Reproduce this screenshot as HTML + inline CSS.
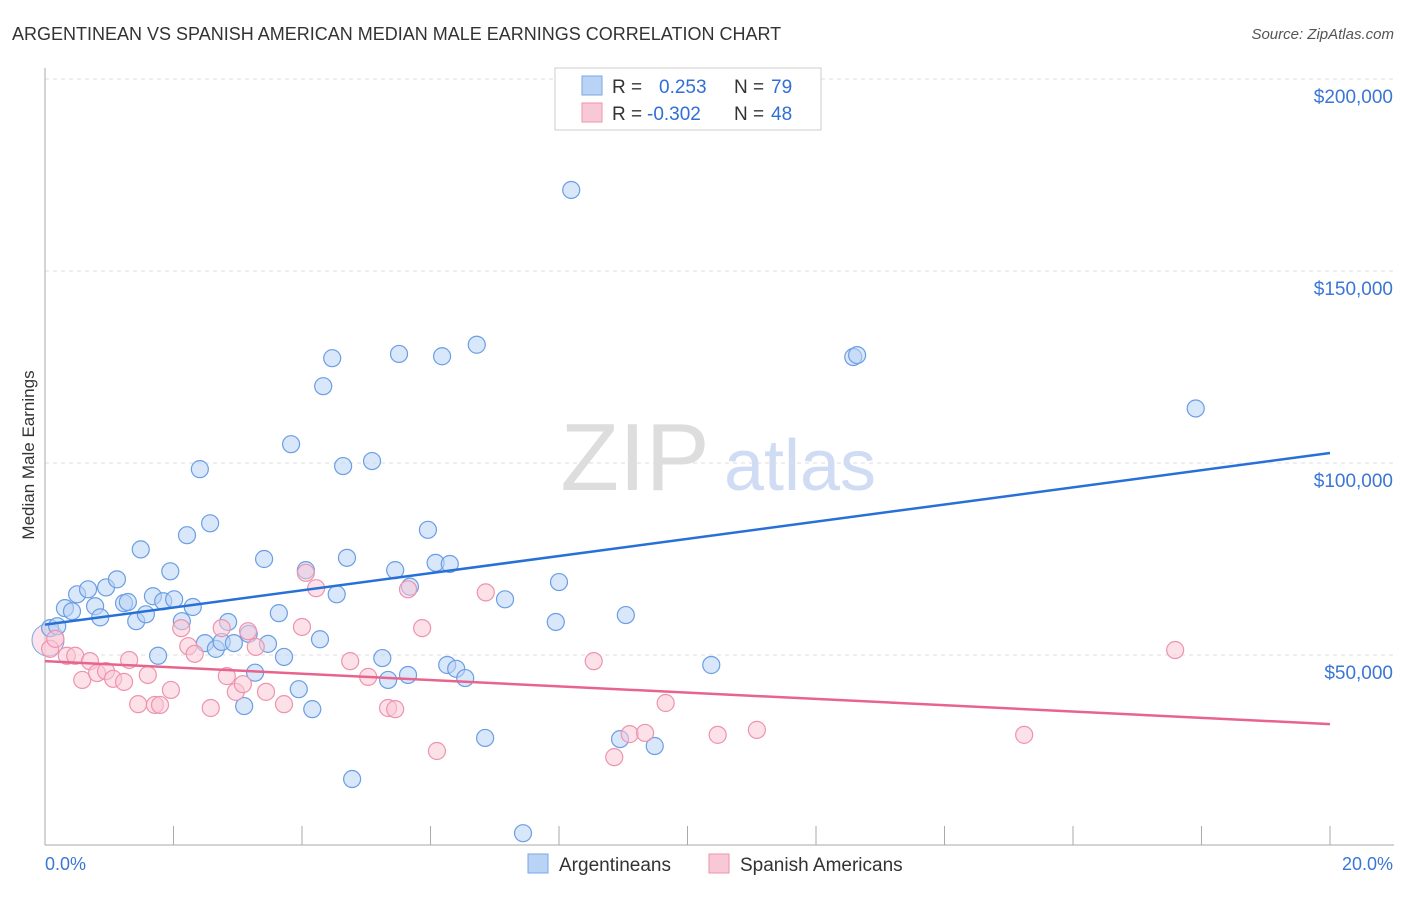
<!DOCTYPE html>
<html><head><meta charset="utf-8"><style>
body{margin:0;background:#fff;font-family:"Liberation Sans",sans-serif;}
svg text{font-family:"Liberation Sans",sans-serif;}
</style></head><body>
<svg id="chart" width="1406" height="892" viewBox="0 0 1406 892" xmlns="http://www.w3.org/2000/svg">
<text x="12" y="40" font-size="18" fill="#333">ARGENTINEAN VS SPANISH AMERICAN MEDIAN MALE EARNINGS CORRELATION CHART</text>
<text x="1394" y="39" font-size="15" fill="#555" text-anchor="end" font-style="italic">Source: ZipAtlas.com</text>
<text transform="translate(34,455) rotate(-90)" font-size="17" fill="#333" text-anchor="middle">Median Male Earnings</text>
<g><text x="635" y="490" font-size="96" fill="#ddd" text-anchor="middle" font-family="Liberation Serif,serif">ZIP</text><text x="800" y="490" font-size="72" fill="#cfdcf3" text-anchor="middle">atlas</text></g>
<g id="grid"></g><g id="axes"></g><g id="pts"></g><g id="lines"></g>
<g>
<rect x="555" y="68" width="266" height="62" fill="#fff" stroke="#ccc"/>
<rect x="582" y="76" width="20" height="19" fill="#b9d3f5" stroke="#7aa6e6"/>
<rect x="582" y="103" width="20" height="19" fill="#f9c8d7" stroke="#ee93ae"/>
<text x="612" y="93" font-size="19" fill="#333">R =</text><text x="659" y="93" font-size="19" fill="#2f6fd6">0.253</text>
<text x="734" y="93" font-size="19" fill="#333">N =</text><text x="771" y="93" font-size="19" fill="#2f6fd6">79</text>
<text x="612" y="120" font-size="19" fill="#333">R =</text><text x="647" y="120" font-size="19" fill="#2f6fd6">-0.302</text>
<text x="734" y="120" font-size="19" fill="#333">N =</text><text x="771" y="120" font-size="19" fill="#2f6fd6">48</text>
</g>
<g>
<rect x="528" y="854" width="20" height="19" fill="#b9d3f5" stroke="#7aa6e6"/>
<text x="559" y="871" font-size="19" fill="#333">Argentineans</text>
<rect x="709" y="854" width="20" height="19" fill="#f9c8d7" stroke="#ee93ae"/>
<text x="740" y="871" font-size="19" fill="#333">Spanish Americans</text>
</g>
<text x="45" y="870" font-size="18" fill="#3a76d6">0.0%</text>
<text x="1393" y="870" font-size="18" fill="#3a76d6" text-anchor="end">20.0%</text>
</svg>
<script>
const yTicks=[50000,100000,150000,200000];
const yTickLabels=["$50,000","$100,000","$150,000","$200,000"];
const blueX=[0.08,0.19,0.31,0.42,0.50,0.67,0.78,0.86,0.95,1.12,1.23,1.29,1.42,1.49,1.57,1.68,1.76,1.84,1.95,2.01,2.13,2.21,2.30,2.41,2.49,2.57,2.66,2.75,2.85,2.94,3.10,3.17,3.27,3.41,3.47,3.64,3.72,3.83,3.95,4.06,4.16,4.28,4.33,4.47,4.54,4.64,4.70,4.78,5.09,5.25,5.34,5.45,5.51,5.65,5.68,5.96,6.08,6.18,6.26,6.30,6.40,6.54,6.72,6.85,7.16,7.44,7.95,8.00,8.19,8.95,9.04,9.49,10.37,12.58,12.64,17.91];
const blueY=[57000,57500,62200,61400,65800,67100,62700,59800,67600,69700,63500,63800,58800,77500,60600,65300,49800,64000,71800,64500,58800,81200,62500,98400,53100,84300,51600,53400,58600,53100,36700,55500,45400,75000,52900,60900,49500,104900,41100,72100,35900,54100,120000,127300,65800,99200,75300,17700,100500,49200,43500,72100,128400,44800,67800,82600,74000,127800,47400,73700,46400,44000,130800,28400,64500,3600,58600,69000,171100,28100,60400,26300,47400,127600,128100,114200];
const pinkX=[0.08,0.16,0.34,0.47,0.58,0.70,0.81,0.95,1.06,1.23,1.31,1.45,1.60,1.71,1.79,1.96,2.12,2.23,2.33,2.58,2.75,2.83,2.97,3.08,3.16,3.28,3.44,3.72,4.00,4.06,4.22,4.75,5.03,5.34,5.45,5.65,5.87,6.10,6.86,8.54,8.86,9.10,9.34,9.66,10.47,11.08,15.24,17.59];
const pinkY=[51600,54200,49800,49800,43500,48400,45300,45800,43800,43000,48700,37200,44800,37000,37000,40900,57000,52300,50300,36200,57000,44500,40400,42400,56200,52100,40400,37200,57300,71400,67400,48400,44300,36200,35900,67100,57000,25000,66300,48400,23400,29400,29700,37500,29200,30500,29200,51300];
const trendBlue=[57900,102600];
const trendPink=[48400,32000];
const X0=45,X1=1330,Y0=847,PX=192/50000;
const sx=v=>X0+(X1-X0)*v/20, sy=v=>Y0-v*PX;
const NS="http://www.w3.org/2000/svg";
function mk(tag,attrs,parent){const e=document.createElementNS(NS,tag);for(const k in attrs)e.setAttribute(k,attrs[k]);parent.appendChild(e);return e;}
const grid=document.getElementById('grid'),axes=document.getElementById('axes'),pts=document.getElementById('pts'),lines=document.getElementById('lines');
yTicks.forEach((t,i)=>{
 const l=mk('line',{x1:X0,x2:1394,y1:sy(t),y2:sy(t),stroke:'#ddd','stroke-dasharray':'4,4'},grid);
 
 
 const tx=mk('text',{x:1393,y:sy(t)+24,'font-size':19,fill:'#3a76d6','text-anchor':'end'},grid);
 tx.textContent=yTickLabels[i];
 
 
});
const ya=mk('line',{x1:X0,x2:X0,y1:68,y2:845,stroke:'#aaa'},axes);


const xa=mk('line',{x1:X0,x2:1394,y1:845,y2:845,stroke:'#aaa'},axes);


for(let i=1;i<=10;i++){
 const t=mk('line',{x1:sx(i*2),x2:sx(i*2),y1:826,y2:845,stroke:'#aaa'},axes);
 
 
}
function dots(xs,ys,fill,stroke,name){
 xs.forEach((x,i)=>{
  const c=mk('circle',{cx:sx(x),cy:sy(ys[i]),r:8.5,fill:fill,'fill-opacity':0.55,stroke:stroke,'stroke-width':1.2},pts);
  
  
 });
}
const big1=mk('circle',{cx:48,cy:640,r:16,fill:'#f9c8d7','fill-opacity':0.5,stroke:'#7aa6e6'},pts);


dots(blueX,blueY,'#b9d3f5','#6b9ee3','argentinean-point');
dots(pinkX,pinkY,'#f9c8d7','#ee93ae','spanish-american-point');
const lb=mk('line',{x1:sx(0),y1:sy(trendBlue[0]),x2:sx(20),y2:sy(trendBlue[1]),stroke:'#2670d8','stroke-width':2.5},lines);


const lp=mk('line',{x1:sx(0),y1:sy(trendPink[0]),x2:sx(20),y2:sy(trendPink[1]),stroke:'#e8648e','stroke-width':2.5},lines);


</script>
</body></html>
